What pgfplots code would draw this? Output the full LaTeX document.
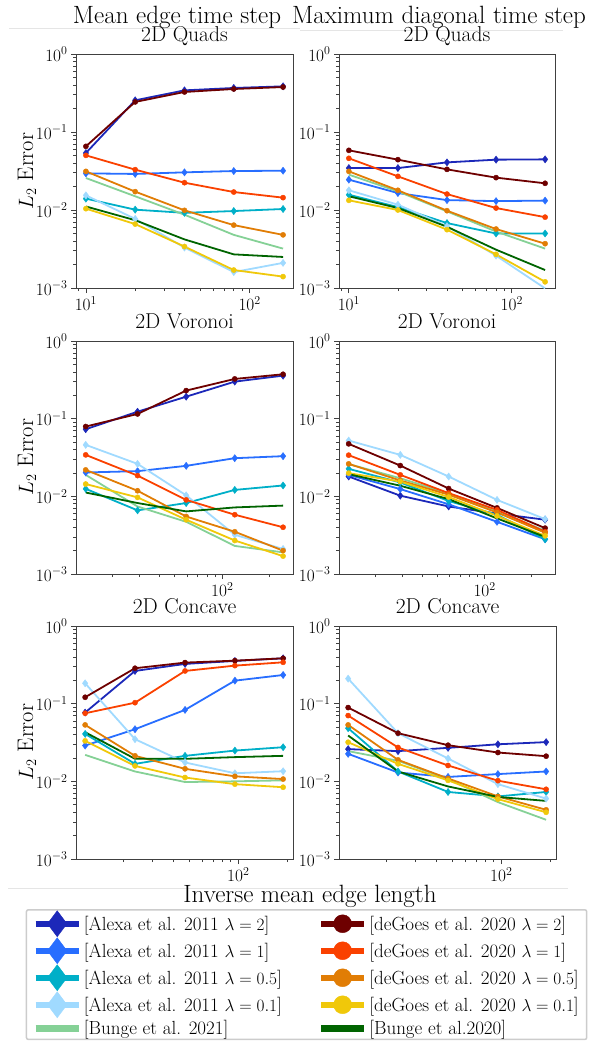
\documentclass[border=0pt]{standalone}
\usepackage{pgfplots}
\usepackage{pgfplotstable}
\pgfplotsset{compat=1.18}

\definecolor{cA2}{RGB}{28,40,185}
\definecolor{cA1}{RGB}{40,110,255}
\definecolor{cA05}{RGB}{0,175,200}
\definecolor{cA01}{RGB}{160,218,255}
\definecolor{cB21}{RGB}{133,209,150}
\definecolor{cD2}{RGB}{110,0,0}
\definecolor{cD1}{RGB}{250,65,0}
\definecolor{cD05}{RGB}{225,125,5}
\definecolor{cD01}{RGB}{240,200,10}
\definecolor{cB20}{RGB}{0,100,0}

% columns: Alexa lambda=2,1,0.5,0.1 | Bunge 2021 | deGoes lambda=2,1,0.5,0.1 | Bunge 2020
\pgfplotstableread{
x    a2     a1     a05    a01     b21    d2     d1     d05    d01    b20
10   0.0538 0.0295 0.0140 0.0154  0.0257 0.0655 0.0502 0.0313 0.0104 0.0111
20   0.255  0.0290 0.0101 0.0077  0.0150 0.243  0.0329 0.0172 0.0066 0.0074
40   0.342  0.0304 0.0092 0.0033  0.0087 0.326  0.0224 0.0099 0.0034 0.0042
80   0.367  0.0316 0.0097 0.0016  0.0048 0.356  0.0170 0.0064 0.0017 0.0027
160  0.385  0.0319 0.0103 0.0021  0.0032 0.377  0.0144 0.0048 0.0014 0.0025
}\quadsmean
\pgfplotstableread{
x    a2     a1     a05    a01     b21    d2     d1     d05    d01    b20
10   0.0345 0.0245 0.0157 0.0179  0.0284 0.0582 0.0460 0.0313 0.0133 0.0150
20   0.0345 0.0165 0.0109 0.0117  0.0173 0.0442 0.0270 0.0179 0.0100 0.0106
40   0.0408 0.0134 0.0068 0.0062  0.0096 0.0332 0.0160 0.0098 0.0056 0.0061
80   0.0442 0.0130 0.0050 0.0026  0.0053 0.0260 0.0106 0.0057 0.0027 0.0031
160  0.0446 0.0132 0.0050 0.00099 0.0032 0.0220 0.0081 0.0037 0.0012 0.0017
}\quadsmax
\pgfplotstableread{
x    a2     a1     a05    a01     b21    d2     d1     d05    d01    b20
13.6 0.0731 0.0203 0.0125 0.0460  0.0189 0.0792 0.0342 0.0219 0.0144 0.0112
29   0.123  0.0211 0.0066 0.0262  0.0074 0.115  0.0185 0.0118 0.0097 0.0082
59   0.192  0.0247 0.0082 0.0103  0.0047 0.230  0.0090 0.0055 0.0050 0.0064
120  0.300  0.0310 0.0121 0.0032  0.0023 0.325  0.0058 0.0035 0.0027 0.0072
243  0.358  0.0329 0.0138 0.0021  0.0019 0.373  0.0040 0.0020 0.0017 0.0076
}\voronoimean
\pgfplotstableread{
x    a2     a1     a05    a01     b21    d2     d1     d05    d01    b20
13.6 0.0180 0.0189 0.0226 0.0523  0.0260 0.0474 0.0339 0.0262 0.0199 0.0193
29   0.0102 0.0124 0.0151 0.0342  0.0171 0.0249 0.0189 0.0160 0.0155 0.0137
59   0.0074 0.0079 0.0087 0.0180  0.0109 0.0126 0.0110 0.0105 0.0098 0.0092
120  0.0060 0.0047 0.0058 0.0090  0.0065 0.0071 0.0067 0.0062 0.0056 0.0052
243  0.0050 0.0028 0.0028 0.0051  0.0036 0.0039 0.0035 0.0034 0.0031 0.0030
}\voronoimax
\pgfplotstableread{
x    a2     a1     a05    a01     b21    d2     d1     d05    d01    b20
11.6 0.0769 0.0289 0.0408 0.183   0.0219 0.121  0.0753 0.0533 0.0332 0.0429
23.4 0.264  0.0469 0.0168 0.0349  0.0134 0.286  0.103  0.0213 0.0158 0.0195
47.3 0.325  0.0832 0.0213 0.0175  0.0098 0.338  0.264  0.0145 0.0112 0.0195
95.4 0.355  0.198  0.0249 0.0127  0.0100 0.358  0.309  0.0116 0.0092 0.0205
188  0.384  0.234  0.0275 0.0135  0.0103 0.384  0.341  0.0107 0.0084 0.0213
}\concavemean
\pgfplotstableread{
x    a2     a1     a05    a01     b21    d2     d1     d05    d01    b20
11.6 0.0260 0.0226 0.0483 0.210   0.0245 0.0891 0.0703 0.0533 0.0319 0.0389
23.4 0.0245 0.0130 0.0134 0.0417  0.0184 0.0417 0.0273 0.0189 0.0168 0.0134
47.3 0.0270 0.0114 0.0073 0.0197  0.0107 0.0292 0.0160 0.0109 0.0103 0.0086
95.4 0.0300 0.0124 0.0064 0.0092  0.0054 0.0235 0.0102 0.0064 0.0059 0.0063
188  0.0320 0.0134 0.0073 0.0060  0.0032 0.0211 0.0079 0.0043 0.0040 0.0056
}\concavemax

\tikzset{
  alexa/.style={line width=1.8pt, mark=diamond*, mark size=3.6pt, mark options={solid, line width=0.4pt}},
  degoes/.style={line width=1.8pt, mark=*, mark size=2.6pt, mark options={solid, line width=0.4pt}},
  bunge/.style={line width=1.8pt},
}
\newcommand{\bigfont}{\fontsize{25}{29}\selectfont}
\newcommand{\midfont}{\fontsize{21.5}{25}\selectfont}

\pgfplotsset{
  tick label style={font=\fontsize{17.5}{20}\selectfont},
  title style={font=\midfont, at={(0.5,1)}, anchor=base, yshift=7pt, inner sep=0pt},
  tick pos=left, tick align=outside,
  major tick length=5pt, minor tick length=3pt,
  axis line style={black!75, line width=1pt},
  tick style={black!75, line width=0.8pt},
}

\newcommand{\allseries}[1]{%
  \addplot[alexa, cA2] table[x=x, y=a2] {#1};
  \addplot[alexa, cA1] table[x=x, y=a1] {#1};
  \addplot[alexa, cA05] table[x=x, y=a05] {#1};
  \addplot[alexa, cA01] table[x=x, y=a01] {#1};
  \addplot[bunge, cB21] table[x=x, y=b21] {#1};
  \addplot[degoes, cD2] table[x=x, y=d2] {#1};
  \addplot[degoes, cD1] table[x=x, y=d1] {#1};
  \addplot[degoes, cD05] table[x=x, y=d05] {#1};
  \addplot[degoes, cD01] table[x=x, y=d01] {#1};
  \addplot[bunge, cB20] table[x=x, y=b20] {#1};
}

\begin{document}
\begin{tikzpicture}
\useasboundingbox (0pt,0pt) rectangle (598pt,-1050pt);

% faint frame lines of the pasted sub-figures
\draw[black!10, line width=0.8pt] (9pt,-28.7pt) -- (300pt,-28.7pt);
\draw[black!10, line width=0.8pt] (300pt,-30pt) -- (563pt,-30pt);
\draw[black!10, line width=0.8pt] (8pt,-888pt) -- (568pt,-888pt);

\node[anchor=base, font=\bigfont, inner sep=0pt] at (177pt,-23pt) {Mean edge time step};
\node[anchor=base, font=\bigfont, inner sep=0pt] at (439pt,-23pt) {Maximum diagonal time step};

\begin{axis}[xmode=log, ymode=log, scale only axis, anchor=south west,
  at={(76pt,-288pt)}, width=217pt, height=234pt,
  xmin=8.7, xmax=184, ymin=1e-3, ymax=1, title={2D Quads},
  xtick={10,100}, minor xtick={9,20,30,40,50,60,70,80,90}]
\allseries{\quadsmean}
\end{axis}
\begin{axis}[xmode=log, ymode=log, scale only axis, anchor=south west,
  at={(339pt,-288pt)}, width=216pt, height=234pt,
  xmin=8.7, xmax=184, ymin=1e-3, ymax=1, title={2D Quads},
  xtick={10,100}, minor xtick={9,20,30,40,50,60,70,80,90}]
\allseries{\quadsmax}
\end{axis}

\begin{axis}[xmode=log, ymode=log, scale only axis, anchor=south west,
  at={(76pt,-574pt)}, width=217pt, height=233pt,
  xmin=11.8, xmax=281, ymin=1e-3, ymax=1, title={2D Voronoi},
  xtick={100}, minor xtick={20,30,40,50,60,70,80,90,200}]
\allseries{\voronoimean}
\end{axis}
\begin{axis}[xmode=log, ymode=log, scale only axis, anchor=south west,
  at={(339pt,-574pt)}, width=216pt, height=233pt,
  xmin=11.8, xmax=281, ymin=1e-3, ymax=1, title={2D Voronoi},
  xtick={100}, minor xtick={20,30,40,50,60,70,80,90,200}]
\allseries{\voronoimax}
\end{axis}

\begin{axis}[xmode=log, ymode=log, scale only axis, anchor=south west,
  at={(76pt,-859pt)}, width=217pt, height=233pt,
  xmin=10.2, xmax=216, ymin=1e-3, ymax=1, title={2D Concave},
  xtick={100}, minor xtick={20,30,40,50,60,70,80,90,200}]
\allseries{\concavemean}
\end{axis}
\begin{axis}[xmode=log, ymode=log, scale only axis, anchor=south west,
  at={(339pt,-859pt)}, width=217pt, height=233pt,
  xmin=10.2, xmax=216, ymin=1e-3, ymax=1, title={2D Concave},
  xtick={100}, minor xtick={20,30,40,50,60,70,80,90,200}]
\allseries{\concavemax}
\end{axis}

\node[rotate=90, anchor=base, font=\fontsize{22.5}{26}\selectfont] at (33pt,-171pt) {$L_2$ Error};
\node[rotate=90, anchor=base, font=\fontsize{22.5}{26}\selectfont] at (33pt,-457pt) {$L_2$ Error};
\node[rotate=90, anchor=base, font=\fontsize{22.5}{26}\selectfont] at (33pt,-742pt) {$L_2$ Error};

\node[anchor=base, font=\bigfont, inner sep=0pt] at (310pt,-902pt) {Inverse mean edge length};

\begin{axis}[hide axis, scale only axis, width=10pt, height=10pt,
  at={(25.7pt,-909pt)}, anchor=north west, xmin=0, xmax=1, ymin=0, ymax=1,
  legend columns=2, legend cell align=left,
  legend image code/.code={\draw[mark repeat=2, mark phase=2, #1] plot coordinates {(0pt,0pt) (21.5pt,0pt) (43pt,0pt)};},
  legend style={at={(0,1)}, anchor=north west, draw=black!20, line width=1.5pt,
    rounded corners=2pt, fill=white, font=\fontsize{19}{22}\selectfont,
    inner xsep=6pt, inner ysep=1pt, row sep=1pt,
    /tikz/every even column/.append style={column sep=34pt}}]
\addlegendimage{alexa, cA2, line width=6.5pt, mark size=13pt}
\addlegendentry{[Alexa et al. 2011 $\lambda = 2$]}
\addlegendimage{degoes, cD2, line width=6.5pt, mark size=9pt}
\addlegendentry{[deGoes et al. 2020 $\lambda = 2$]}
\addlegendimage{alexa, cA1, line width=6.5pt, mark size=13pt}
\addlegendentry{[Alexa et al. 2011 $\lambda = 1$]}
\addlegendimage{degoes, cD1, line width=6.5pt, mark size=9pt}
\addlegendentry{[deGoes et al. 2020 $\lambda = 1$]}
\addlegendimage{alexa, cA05, line width=6.5pt, mark size=13pt}
\addlegendentry{[Alexa et al. 2011 $\lambda = 0.5$]}
\addlegendimage{degoes, cD05, line width=6.5pt, mark size=9pt}
\addlegendentry{[deGoes et al. 2020 $\lambda = 0.5$]}
\addlegendimage{alexa, cA01, line width=6.5pt, mark size=13pt}
\addlegendentry{[Alexa et al. 2011 $\lambda = 0.1$]}
\addlegendimage{degoes, cD01, line width=6.5pt, mark size=9pt}
\addlegendentry{[deGoes et al. 2020 $\lambda = 0.1$]}
\addlegendimage{bunge, cB21, line width=6.5pt}
\addlegendentry{[Bunge et al. 2021]}
\addlegendimage{bunge, cB20, line width=6.5pt}
\addlegendentry{[Bunge et al.2020]}
\end{axis}
\end{tikzpicture}
\end{document}
